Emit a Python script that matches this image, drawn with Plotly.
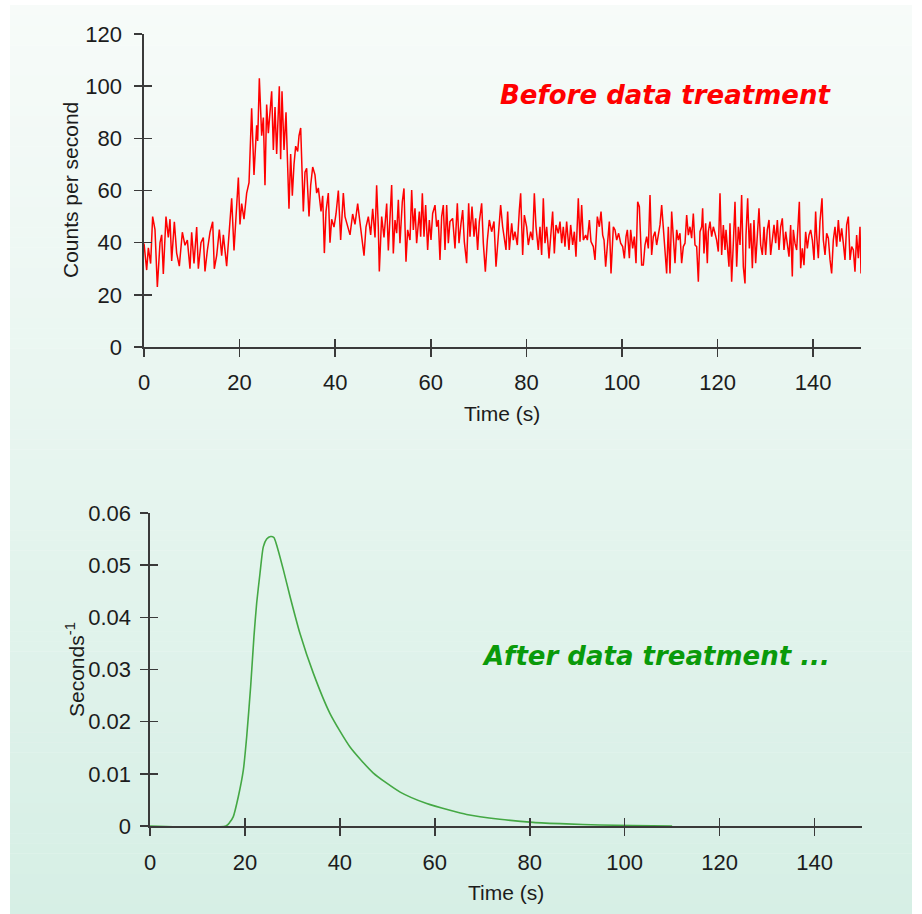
import plotly.graph_objects as go

W, H = 922, 914

# ---------------- data ----------------
raw_time = [
    0.0, 0.56, 0.91, 1.39, 1.81, 2.30, 2.79, 3.35, 3.70, 4.04,
    4.60, 5.09, 5.44, 5.79, 6.35, 6.83, 7.39, 8.02, 8.58, 9.07,
    9.62, 9.97, 10.46, 11.02, 11.37, 11.92, 12.41, 12.76, 13.25, 13.81,
    14.37, 14.71, 15.20, 15.76, 16.25, 16.60, 17.29, 17.64, 18.34, 18.83,
    19.25, 19.74, 20.08, 20.43, 20.92, 21.48, 21.97, 22.52, 23.01, 23.57,
    23.78, 24.13, 24.62, 24.97, 25.31, 25.66, 26.01, 26.36, 26.71, 27.06,
    27.41, 27.75, 28.10, 28.31, 28.59, 28.87, 29.29, 29.71, 29.99, 30.33,
    30.68, 31.03, 31.38, 31.73, 32.15, 32.43, 32.78, 33.12, 33.33, 33.68,
    34.03, 34.52, 34.87, 35.29, 35.77, 36.12, 36.47, 37.03, 37.38, 37.73,
    38.08, 38.56, 38.91, 39.26, 39.75, 40.17, 40.66, 41.14, 41.70, 42.05,
    42.54, 43.10, 43.65, 44.14, 44.70, 45.19, 45.54, 46.03, 46.44, 46.93,
    47.42, 47.84, 48.33, 48.67, 49.02, 49.23, 49.72, 50.21, 50.77, 51.12,
    51.81, 52.16, 52.51, 52.86, 53.21, 53.55, 54.04, 54.39, 54.81, 55.16,
    55.65, 56.00, 56.34, 56.69, 57.04, 57.60, 57.88, 58.23, 58.58, 58.92,
    59.34, 59.69, 60.04, 60.39, 60.88, 61.23, 61.57, 61.92, 62.27, 62.62,
    62.97, 63.32, 63.67, 64.01, 64.57, 65.06, 65.55, 65.90, 66.32, 66.67,
    67.01, 67.50, 67.92, 68.20, 68.62, 69.04, 69.39, 69.80, 70.15, 70.64,
    70.99, 71.41, 71.83, 72.24, 72.73, 73.22, 73.64, 74.13, 74.61, 75.03,
    75.31, 75.73, 76.08, 76.43, 76.92, 77.26, 77.61, 78.10, 78.52, 78.80,
    79.22, 79.57, 80.05, 80.40, 80.89, 81.31, 81.66, 82.01, 82.49, 82.84,
    83.19, 83.54, 83.89, 84.24, 84.73, 85.07, 85.49, 85.84, 86.19, 86.68,
    87.03, 87.38, 87.72, 88.07, 88.42, 88.91, 89.26, 89.68, 90.03, 90.37,
    90.86, 91.21, 91.56, 91.91, 92.40, 92.75, 93.17, 93.51, 94.00, 94.35,
    94.84, 95.26, 95.61, 95.96, 96.24, 96.58, 96.93, 97.35, 97.70, 98.19,
    98.54, 98.89, 99.30, 99.72, 100.14, 100.49, 100.84, 101.12, 101.54, 101.81,
    102.23, 102.58, 102.93, 103.28, 103.63,
    104.11, 104.46, 104.81, 105.16, 105.51, 105.86, 106.20, 106.55, 106.90, 107.25,
    107.60, 107.95, 108.30, 108.65, 108.99, 109.34, 109.69, 110.04, 110.39, 110.74,
    111.09, 111.44, 111.78, 112.13, 112.48, 112.83, 113.18, 113.53, 113.88, 114.22,
    114.57, 114.92, 115.27, 115.62, 115.97, 116.32, 116.67, 116.87, 117.15, 117.50,
    117.85, 118.06, 118.41, 118.76, 119.11, 119.46, 119.80, 120.15, 120.50, 120.85,
    121.20, 121.55, 121.76, 122.04, 122.38, 122.59, 122.94, 123.29, 123.64, 123.99,
    124.34, 124.69, 125.03, 125.38, 125.73, 125.94, 126.29, 126.64, 126.92, 127.27,
    127.61, 127.96, 128.31, 128.66, 129.01, 129.36, 129.71, 130.05, 130.40, 130.75,
    131.10, 131.45, 131.80, 132.15, 132.50, 132.84, 133.19, 133.54, 133.89, 134.24,
    134.59, 134.94, 135.28, 135.63, 135.84, 136.19, 136.54, 136.89, 137.10, 137.38,
    137.73, 138.07, 138.42, 138.77, 139.12, 139.47, 139.82, 140.17, 140.51, 140.72,
    141.07, 141.42, 141.84, 142.12, 142.47, 142.82, 143.17, 143.52, 143.86, 144.21,
    144.56, 144.91, 145.26, 145.61, 145.96, 146.30, 146.65, 147.00, 147.35, 147.70,
    148.05, 148.40, 148.74, 149.09, 149.44, 149.79, 150.0,
]

raw_counts = [
    39.7, 29.5, 38, 32, 50, 45, 23, 40, 43, 28,
    50, 42, 49, 33, 48, 36, 31, 44, 39, 41,
    30, 44, 32, 46, 30, 40, 42, 29, 37, 44,
    48, 30, 35, 45, 35, 43, 31, 40, 57, 37,
    51, 65, 47, 55, 49, 59, 63, 91.5, 66, 85,
    79, 103, 81, 88, 62, 93, 82, 90, 98, 75.5,
    92, 74, 94, 100, 72, 98, 75.5, 90, 73, 53,
    74, 58, 70, 77, 75, 81, 84, 62, 52, 67,
    68.5, 50, 62, 69, 66, 59, 61, 52, 58, 36,
    52, 59, 40, 49, 46, 51, 60, 41, 59, 50,
    47, 43, 51, 47, 55, 47, 41, 35, 46, 50,
    43, 53, 42, 62, 46, 29, 50, 42, 55, 37,
    62.1, 35.9, 48.7, 43.6, 56.4, 39.8, 55.7, 60.8, 32.7, 44.9,
    41.0, 60.2, 44.9, 53.2, 39.8, 51.9, 42.3, 58.9, 42.3, 54.4,
    37.2, 48.7, 41.0, 51.2, 54.4, 46.1, 48.7, 33.4, 50.0, 54.4,
    37.2, 54.4, 39.8, 48.1, 49.3, 37.8, 55.1, 39.8, 47.4, 52.5,
    40.4, 32.1, 55.1, 42.3, 53.8, 42.3, 49.3, 37.2, 48.1, 55.1,
    39.8, 28.9, 41.0, 48.7, 44.2, 48.1, 30.8, 44.9, 54.4, 46.1,
    42.9, 37.2, 51.9, 37.2, 47.4, 41.0, 44.2, 39.1, 52.5, 58.9,
    35.3, 50.6, 46.1, 39.1, 44.2, 41.0, 58.9, 46.1, 37.2, 46.1,
    35.3, 57.0, 39.8, 46.1, 34.0, 41.7, 51.9, 35.9, 46.8, 43.6,
    48.1, 39.8, 46.1, 38.5, 48.1, 37.2, 46.8, 39.1, 44.2, 34.6,
    57.0, 40.4, 54.4, 41.0, 42.9, 41.0, 48.7, 40.4, 38.5, 33.4,
    50.0, 46.1, 51.9, 42.9, 41.0, 30.8, 39.8, 48.1, 28.2, 46.1,
    44.9, 41.0, 43.6, 39.8, 38.5, 34.0, 42.3, 44.9, 34.0, 44.9,
    37.8, 42.3, 32.1, 55.7, 53.8,
    31.4, 31.4, 39.1, 42.3, 37.8, 58.3, 35.3, 42.3, 44.2, 39.1,
    43.6, 46.8, 54.4, 44.9, 35.3, 28.2, 46.1, 28.2, 51.9, 42.3,
    32.1, 44.9, 41.0, 43.6, 32.1, 38.5, 39.8, 50.6, 42.9, 46.1,
    41.7, 51.2, 39.1, 38.5, 25.0, 44.2, 46.1, 53.2, 35.9, 47.4,
    32.1, 44.2, 48.1, 42.3, 46.1, 43.6, 41.0, 36.6, 58.9, 35.3,
    46.8, 37.2, 44.9, 38.5, 30.8, 47.4, 25.0, 39.8, 55.7, 30.8,
    46.1, 39.1, 58.3, 30.8, 24.4, 42.9, 57.0, 37.8, 47.4, 30.2,
    48.7, 32.1, 42.9, 53.2, 39.1, 35.3, 46.1, 35.3, 44.9, 48.7,
    35.3, 41.0, 46.8, 39.8, 48.7, 37.2, 46.1, 49.3, 37.2, 44.2,
    39.8, 34.6, 46.8, 27.0, 44.9, 39.8, 37.2, 48.7, 55.7, 30.2,
    37.8, 31.4, 44.2, 37.8, 42.9, 44.9, 41.0, 33.4, 51.9, 42.9,
    34.0, 48.1, 57.0, 41.0, 35.3, 43.6, 41.7, 33.4, 28.2, 41.0,
    46.1, 38.5, 48.7, 40.4, 45.5, 39.8, 33.4, 46.8, 50.0, 33.4,
    38.5, 37.2, 28.9, 42.9, 34.0, 46.1, 28.2,
]

treated_time = [0, 16.0, 16.8, 17.55, 18.6, 19.66, 20.37, 21.2, 21.9, 22.47,
                23.17, 23.87, 24.58, 25.42, 26.1, 26.8, 28.1, 29.5, 31.6, 34.4,
                37.9, 42.1, 47.0, 52.7, 58.3, 63.2, 66.7, 73.7, 80.7, 87.7,
                94.7, 101.7, 110.0]
treated_rate = [0, 0, 0.0007, 0.0018, 0.0056, 0.0107, 0.0171, 0.0267, 0.0363, 0.0427,
                0.0484, 0.0535, 0.0550, 0.0555, 0.0553, 0.0535, 0.0491, 0.0440, 0.0369, 0.0293,
                0.0216, 0.0152, 0.0102, 0.0065, 0.0043, 0.0030, 0.0022, 0.0013, 0.0007, 0.0004,
                0.0002, 0.0001, 0.0]

x_ticks = [0, 20, 40, 60, 80, 100, 120, 140]
top_y_ticks = [0, 20, 40, 60, 80, 100, 120]
bottom_y_ticks = [0, 0.01, 0.02, 0.03, 0.04, 0.05, 0.06]
bottom_y_labels = ["0", "0.01", "0.02", "0.03", "0.04", "0.05", "0.06"]

assert len(raw_time) == len(raw_counts)
assert len(treated_time) == len(treated_rate)

# ---------------- layout helpers ----------------
def fx(p):
    return p / W

def fy(p):
    return 1 - p / H

AXC = "#3a3a3a"
FONT = "Liberation Sans, Arial, Helvetica, sans-serif"
tick_font = dict(family=FONT, size=22, color="#1c1c1c")

common = dict(showgrid=False, zeroline=False, showline=True, linecolor=AXC,
              linewidth=1.6, ticks="outside", ticklen=8, tickwidth=1.6,
              tickcolor=AXC, tickfont=tick_font, automargin=False)
inner = dict(showgrid=False, zeroline=False, showline=False, ticks="inside",
             ticklen=8, tickwidth=1.6, tickcolor=AXC, showticklabels=False)

fig = go.Figure()
fig.add_trace(go.Scatter(x=raw_time, y=raw_counts, mode="lines",
                         line=dict(color="#ff0000", width=1.5),
                         xaxis="x", yaxis="y", hoverinfo="skip", showlegend=False))
fig.add_trace(go.Scatter(x=treated_time, y=treated_rate, mode="lines",
                         line=dict(color="#44a844", width=1.6, shape="spline", smoothing=0.6),
                         xaxis="x2", yaxis="y2", hoverinfo="skip", showlegend=False))
# invisible helpers carrying the inner half of the crossing tick marks
fig.add_trace(go.Scatter(x=raw_time, y=raw_counts, mode="lines", opacity=0,
                         xaxis="x3", yaxis="y3", hoverinfo="skip", showlegend=False))
fig.add_trace(go.Scatter(x=treated_time, y=treated_rate, mode="lines", opacity=0,
                         xaxis="x4", yaxis="y4", hoverinfo="skip", showlegend=False))

top_xdom = [fx(144), fx(861)]
top_ydom = [fy(347), fy(34)]
bot_xdom = [fx(150), fx(862)]
bot_ydom = [fy(826), fy(513)]

# background gradient (panel)
shapes = []
N = 90
top_c = (247, 251, 249)
bot_c = (214, 239, 229)
y0p, y1p = 5, H
for i in range(N):
    a = y0p + (y1p - y0p) * i / N
    b = y0p + (y1p - y0p) * (i + 1) / N
    t = (i + 0.5) / N
    c = tuple(round(top_c[k] + (bot_c[k] - top_c[k]) * t) for k in range(3))
    shapes.append(dict(type="rect", xref="paper", yref="paper",
                       x0=fx(10), x1=fx(912), y0=max(0, fy(b) - 0.0005), y1=fy(a),
                       fillcolor="rgb(%d,%d,%d)" % c, line=dict(width=0), layer="below"))

title_font = dict(family=FONT, size=21, color="#1c1c1c")
annotations = [
    dict(text="<b><i>Before data treatment</i></b>", x=fx(665), y=fy(95),
         xref="paper", yref="paper", showarrow=False, xanchor="center", yanchor="middle",
         font=dict(family="DejaVu Sans, Verdana, sans-serif", size=26, color="#ff0000")),
    dict(text="<b><i>After data treatment ...</i></b>", x=fx(656), y=fy(656),
         xref="paper", yref="paper", showarrow=False, xanchor="center", yanchor="middle",
         font=dict(family="DejaVu Sans, Verdana, sans-serif", size=26, color="#0a9a0a")),
    dict(text="Time (s)", x=fx(502), y=fy(413), xref="paper", yref="paper",
         showarrow=False, xanchor="center", yanchor="middle", font=title_font),
    dict(text="Time (s)", x=fx(506), y=fy(892), xref="paper", yref="paper",
         showarrow=False, xanchor="center", yanchor="middle", font=title_font),
    dict(text="Counts per second", x=fx(71), y=fy(190), xref="paper", yref="paper",
         showarrow=False, xanchor="center", yanchor="middle", textangle=-90, font=title_font),
    dict(text="Seconds<sup>-1</sup>", x=fx(75), y=fy(670), xref="paper", yref="paper",
         showarrow=False, xanchor="center", yanchor="middle", textangle=-90, font=title_font),
]

fig.update_layout(
    width=W, height=H, autosize=False,
    margin=dict(l=0, r=0, t=0, b=0, pad=0, autoexpand=False),
    paper_bgcolor="white", plot_bgcolor="rgba(0,0,0,0)",
    showlegend=False,
    shapes=shapes, annotations=annotations,
    xaxis=dict(domain=top_xdom, range=[0, 150], tickvals=x_ticks, anchor="y",
               ticklabelstandoff=7, layer="below traces", **common),
    yaxis=dict(domain=top_ydom, range=[0, 120], tickvals=top_y_ticks, anchor="x",
               ticklabelstandoff=8, **common),
    xaxis2=dict(domain=bot_xdom, range=[0, 150], tickvals=x_ticks, anchor="y2",
                ticklabelstandoff=8, layer="below traces", **common),
    yaxis2=dict(domain=bot_ydom, range=[0, 0.06], tickvals=bottom_y_ticks,
                ticktext=bottom_y_labels, anchor="x2", ticklabelstandoff=5, **common),
    xaxis3=dict(overlaying="x", anchor="y3", range=[0, 150], tickvals=x_ticks, **inner),
    yaxis3=dict(overlaying="y", anchor="x3", range=[0, 120], tickvals=top_y_ticks, **inner),
    xaxis4=dict(overlaying="x2", anchor="y4", range=[0, 150], tickvals=x_ticks, **inner),
    yaxis4=dict(overlaying="y2", anchor="x4", range=[0, 0.06], tickvals=bottom_y_ticks, **inner),
)

fig.write_html(
    "out.html",
    config={"displayModeBar": False, "staticPlot": True},
    post_script="document.documentElement.style.margin='0';document.body.style.margin='0';"
                "document.body.style.padding='0';document.body.style.overflow='hidden';",
)
